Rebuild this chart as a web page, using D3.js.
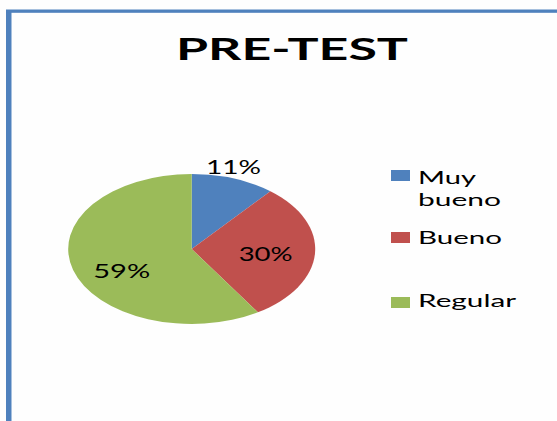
<!DOCTYPE html>
<html>
<head>
<meta charset="utf-8">
<script src="https://cdn.jsdelivr.net/npm/d3@7"></script>
<style>
html,body{margin:0;padding:0;background:#fff;}
svg{display:block;}
</style>
</head>
<body>
<svg id="chart" width="557" height="421"></svg>
<script>
const title = "PRE-TEST";
const categories = ["Muy bueno", "Bueno", "Regular"];
const legendLines = [["Muy", "bueno"], ["Bueno"], ["Regular"]];
const values = [11, 30, 59];
const valueLabels = ["11%", "30%", "59%"];
const colors = ["#4f81bd", "#c0504d", "#9bbb59"];

const svg = d3.select("#chart");
const W = 557, H = 421;
const font = "Lato, 'Open Sans', sans-serif";

// frame
svg.append("rect").attr("x", 0).attr("y", 0).attr("width", W).attr("height", H).attr("fill", "#fefefe");
svg.append("rect").attr("x", 6).attr("y", 10).attr("width", 5.5).attr("height", H - 10).attr("fill", "#4f81bd");
svg.append("rect").attr("x", 6).attr("y", 9.5).attr("width", W - 6).attr("height", 3.3).attr("fill", "#4f81bd");

// title
svg.append("text")
  .attr("x", 176).attr("y", 60)
  .attr("textLength", 232).attr("lengthAdjust", "spacingAndGlyphs")
  .attr("font-family", font).attr("font-weight", "bold").attr("font-size", 31)
  .attr("fill", "#000").text(title);

// pie (ellipse: circle scaled horizontally)
const cx = 191.7, cy = 249, ry = 75, rx = 123.5;
const sx = rx / ry;
const pie = d3.pie().sort(null).value(d => d)(values);
const arc = d3.arc().innerRadius(0).outerRadius(ry);
const g = svg.append("g").attr("transform", `translate(${cx},${cy}) scale(${sx},1)`);
g.selectAll("path").data(pie).join("path")
  .attr("d", arc)
  .attr("fill", (d, i) => colors[i]);

// labels (radial factor kx, ky relative to ellipse radii)
const labelK = [[1.0, 1.16], [0.6, 1.1], [0.59, 1.05]];
const labelW = [55, 54, 57];
pie.forEach((d, i) => {
  const a = (d.startAngle + d.endAngle) / 2;
  const x = cx + rx * Math.sin(a) * labelK[i][0];
  const yc = cy - ry * Math.cos(a) * labelK[i][1];
  svg.append("text")
    .attr("x", x - labelW[i] / 2).attr("y", yc + 6.7)
    .attr("textLength", labelW[i]).attr("lengthAdjust", "spacingAndGlyphs")
    .attr("font-family", font).attr("font-size", 18.6)
    .attr("fill", "#000").text(valueLabels[i]);
});

// legend
const legY = d3.scaleOrdinal().domain(categories).range([170, 232, 297]);
const legBase = d3.scaleOrdinal().domain(categories).range([184, 244, 307]);
const lineWidths = [[58, 83], [84], [98]];
categories.forEach((c, i) => {
  const y0 = legY(c);
  svg.append("rect").attr("x", 391).attr("y", y0).attr("width", 19).attr("height", 11).attr("fill", colors[i]);
  const t = svg.append("text")
    .attr("font-family", font).attr("font-size", 18)
    .attr("fill", "#000");
  legendLines[i].forEach((line, j) => {
    t.append("tspan")
      .attr("x", 418).attr("y", legBase(c) + j * 21.5)
      .attr("textLength", lineWidths[i][j]).attr("lengthAdjust", "spacingAndGlyphs")
      .text(line);
  });
});
</script>
</body>
</html>
